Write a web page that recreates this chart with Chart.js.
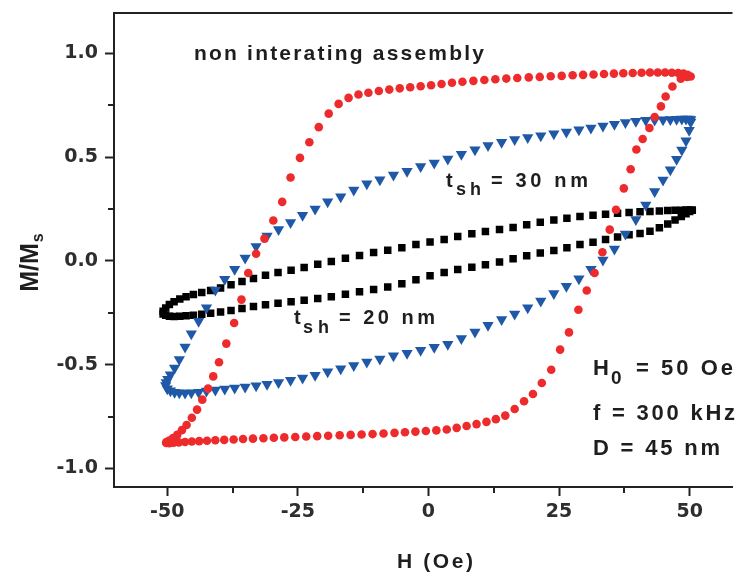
<!DOCTYPE html>
<html>
<head>
<meta charset="utf-8">
<title>Hysteresis loops</title>
<script src="https://cdn.jsdelivr.net/npm/chart.js@4.4.0/dist/chart.umd.min.js"></script>
<style>
  html, body { margin: 0; padding: 0; background: #fff; }
  canvas { display: block; }
</style>
</head>
<body>
<canvas id="loops" width="739" height="577"></canvas>
<script>
// red circles: upper branch (field going down), then lower branch (field going up)
const redUpH = [50.2, 49.6, 48.8, 47.8, 46.6, 45.3, 43.9, 42.4, 40.8, 39.1, 37.3, 35.5, 33.6, 31.6, 29.6,
  27.6, 25.5, 23.4, 21.3, 19.2, 17.0, 14.9, 12.8, 10.7, 8.6, 6.5, 4.5, 2.5, 0.5, -1.5, -3.5, -5.5, -7.5,
  -9.5, -11.5, -13.4, -15.3, -17.2, -19.1, -21.0, -22.8, -24.6, -26.4, -28.0, -29.7, -31.4, -33.0, -34.5,
  -35.8, -37.2, -38.7, -40.1, -41.2, -42.2, -43.3, -44.3, -45.3, -46.3, -47.2, -48.1, -48.9, -49.6, -50.2];
const redUpM = [0.889, 0.897, 0.903, 0.906, 0.907, 0.908, 0.908, 0.908, 0.907, 0.906, 0.905, 0.903, 0.901,
  0.899, 0.897, 0.895, 0.892, 0.890, 0.887, 0.885, 0.882, 0.879, 0.876, 0.872, 0.868, 0.864, 0.859, 0.853,
  0.847, 0.842, 0.837, 0.832, 0.826, 0.819, 0.811, 0.802, 0.786, 0.757, 0.710, 0.645, 0.572, 0.497, 0.402,
  0.285, 0.195, 0.108, 0.035, -0.058, -0.186, -0.299, -0.398, -0.488, -0.556, -0.615, -0.668, -0.716,
  -0.755, -0.790, -0.815, -0.838, -0.853, -0.865, -0.873];
const redLoH = [-50.2, -49.6, -48.8, -47.8, -46.6, -45.3, -43.9, -42.4, -40.8, -39.1, -37.3, -35.5, -33.6,
  -31.6, -29.6, -27.6, -25.5, -23.4, -21.3, -19.2, -17.0, -14.9, -12.8, -10.7, -8.6, -6.5, -4.5, -2.5, -0.5,
  1.5, 3.5, 5.4, 7.3, 9.2, 11.1, 12.9, 14.7, 16.5, 18.3, 20.0, 21.7, 23.5, 25.2, 26.9, 28.7, 30.3, 31.8,
  33.3, 34.7, 35.9, 37.4, 38.7, 39.8, 41.0, 42.3, 43.3, 44.5, 45.4, 46.7, 48.3, 49.5];
const redLoM = [-0.877, -0.878, -0.876, -0.874, -0.872, -0.870, -0.868, -0.866, -0.864, -0.862, -0.860,
  -0.858, -0.856, -0.854, -0.852, -0.850, -0.848, -0.846, -0.844, -0.842, -0.840, -0.838, -0.836, -0.834,
  -0.831, -0.828, -0.825, -0.822, -0.819, -0.816, -0.812, -0.804, -0.795, -0.786, -0.775, -0.762, -0.745,
  -0.713, -0.676, -0.641, -0.588, -0.524, -0.427, -0.344, -0.235, -0.142, -0.058, 0.042, 0.151, 0.247,
  0.350, 0.442, 0.537, 0.588, 0.641, 0.694, 0.745, 0.793, 0.841, 0.878, 0.887];

// blue triangles (t_sh = 30 nm)
const blueUpH = [50.2, 49.9, 49.3, 48.5, 47.5, 46.3, 44.9, 43.3, 41.6, 39.7, 37.7, 35.6, 33.4, 31.1, 28.8,
  26.4, 24.0, 21.5, 19.0, 16.5, 14.0, 11.4, 8.9, 6.3, 3.7, 1.1, -1.5, -4.1, -6.7, -9.3, -11.8, -14.3, -16.8,
  -19.3, -21.7, -24.1, -26.4, -28.7, -30.9, -33.0, -35.1, -37.1, -39.0, -40.8, -42.5, -44.0, -45.4, -46.6,
  -47.7, -48.6, -49.4, -49.9, -50.2];
const blueUpM = [0.682, 0.684, 0.684, 0.684, 0.683, 0.682, 0.681, 0.680, 0.678, 0.673, 0.667, 0.659, 0.650,
  0.641, 0.632, 0.622, 0.613, 0.604, 0.595, 0.585, 0.572, 0.556, 0.536, 0.514, 0.492, 0.472, 0.455, 0.432,
  0.414, 0.392, 0.372, 0.342, 0.310, 0.285, 0.250, 0.220, 0.185, 0.152, 0.120, 0.070, 0.015, -0.040, -0.088,
  -0.140, -0.225, -0.290, -0.350, -0.415, -0.475, -0.515, -0.548, -0.570, -0.585];
const blueLoH = [-50.3, -50.0, -49.4, -48.6, -47.7, -46.6, -45.4, -44.0, -42.5, -40.8, -39.0, -37.1, -35.1,
  -33.0, -30.9, -28.7, -26.4, -24.1, -21.7, -19.3, -16.8, -14.3, -11.8, -9.3, -6.7, -4.1, -1.5, 1.1, 3.7,
  6.3, 8.9, 11.4, 14.0, 16.5, 19.0, 21.5, 24.0, 26.4, 28.8, 31.1, 33.4, 35.6, 37.7, 39.7, 41.6, 43.3, 44.9,
  46.3, 47.5, 48.5, 49.3, 49.9, 50.2];
const blueLoM = [-0.600, -0.615, -0.625, -0.632, -0.635, -0.636, -0.635, -0.632, -0.627, -0.622, -0.617,
  -0.612, -0.607, -0.601, -0.594, -0.585, -0.575, -0.564, -0.550, -0.534, -0.519, -0.503, -0.487, -0.472,
  -0.457, -0.444, -0.430, -0.416, -0.401, -0.373, -0.342, -0.310, -0.282, -0.255, -0.225, -0.193, -0.157,
  -0.122, -0.085, -0.040, 0.005, 0.058, 0.130, 0.200, 0.270, 0.335, 0.390, 0.440, 0.490, 0.535, 0.580,
  0.630, 0.670];

// black squares (t_sh = 20 nm)
const blackUpH = [50.5, 50.0, 49.3, 48.4, 47.2, 45.8, 44.2, 42.4, 40.5, 38.4, 36.2, 33.9, 31.5, 29.0, 26.5,
  24.0, 21.4, 18.8, 16.2, 13.6, 10.9, 8.3, 5.6, 3.0, 0.3, -2.4, -5.1, -7.8, -10.5, -13.2, -15.9, -18.6,
  -21.2, -23.8, -26.3, -28.8, -31.2, -33.5, -35.7, -37.8, -39.8, -41.7, -43.4, -45.0, -46.4, -47.6, -48.7,
  -49.6, -50.3, -50.8];
const blackUpM = [0.245, 0.246, 0.246, 0.245, 0.244, 0.243, 0.241, 0.239, 0.237, 0.234, 0.230, 0.225, 0.220,
  0.214, 0.206, 0.197, 0.187, 0.175, 0.162, 0.152, 0.142, 0.131, 0.118, 0.104, 0.092, 0.079, 0.064, 0.052,
  0.041, 0.027, 0.013, -0.002, -0.016, -0.031, -0.045, -0.055, -0.069, -0.084, -0.099, -0.114, -0.130,
  -0.142, -0.152, -0.162, -0.172, -0.183, -0.196, -0.210, -0.226, -0.242];
const blackLoH = [-50.8, -50.3, -49.6, -48.7, -47.6, -46.4, -45.0, -43.4, -41.7, -39.8, -37.8, -35.7, -33.5,
  -31.2, -28.8, -26.3, -23.8, -21.2, -18.6, -15.9, -13.2, -10.5, -7.8, -5.1, -2.4, 0.3, 3.0, 5.6, 8.3, 10.9,
  13.6, 16.2, 18.8, 21.4, 24.0, 26.5, 29.0, 31.5, 33.9, 36.2, 38.4, 40.5, 42.4, 44.2, 45.8, 47.2, 48.4, 49.3,
  50.0, 50.5];
const blackLoM = [-0.255, -0.262, -0.266, -0.267, -0.266, -0.264, -0.261, -0.257, -0.252, -0.246, -0.238,
  -0.229, -0.219, -0.211, -0.203, -0.196, -0.189, -0.181, -0.172, -0.160, -0.148, -0.137, -0.125, -0.110,
  -0.090, -0.071, -0.055, -0.041, -0.030, -0.018, -0.005, 0.011, 0.025, 0.039, 0.051, 0.064, 0.079, 0.090,
  0.104, 0.116, 0.126, 0.133, 0.143, 0.160, 0.178, 0.198, 0.215, 0.228, 0.238, 0.244];

// axis ticks
const xMajor = [-50, -25, 0, 25, 50];
const xMinor = [-37.5, -12.5, 12.5, 37.5];
const yMajor = [-1.0, -0.5, 0.0, 0.5, 1.0];
const yMinor = [-0.75, -0.25, 0.25, 0.75];

const AXIS_COLOR = '#222';
const TEXT_COLOR = '#1e1e1e';

// join the two branches of a loop into x/y points
function loopPoints(upH, upM, loH, loM) {
  const up = upH.map((h, i) => ({ x: h, y: upM[i] }));
  const lo = loH.map((h, i) => ({ x: h, y: loM[i] }));
  return up.concat(lo);
}

// draw a string so that it spans from left to right (the figure uses wide letter spacing)
function fitText(ctx, str, left, right, baseline, font) {
  ctx.font = font;
  ctx.letterSpacing = '0px';
  const natural = ctx.measureText(str).width;
  const gap = str.length > 1 ? (right - left - natural) / (str.length - 1) : 0;
  ctx.letterSpacing = gap.toFixed(2) + 'px';
  ctx.fillText(str, left, baseline);
  ctx.letterSpacing = '0px';
}

// top frame line, minor ticks, annotations and axis titles
const extras = {
  id: 'extras',
  afterDraw(chart) {
    const { ctx, chartArea: a, scales: { x, y } } = chart;
    ctx.save();
    ctx.strokeStyle = AXIS_COLOR;
    ctx.lineWidth = 2;
    ctx.beginPath();
    ctx.moveTo(a.left - 1, a.top);
    ctx.lineTo(a.right, a.top);
    xMinor.forEach(v => {
      const px = Math.round(x.getPixelForValue(v));
      ctx.moveTo(px, a.bottom);
      ctx.lineTo(px, a.bottom + 6);
    });
    yMinor.forEach(v => {
      const py = Math.round(y.getPixelForValue(v));
      ctx.moveTo(a.left, py);
      ctx.lineTo(a.left - 6, py);
    });
    ctx.stroke();

    ctx.fillStyle = TEXT_COLOR;
    ctx.textAlign = 'left';
    ctx.textBaseline = 'alphabetic';
    const f20 = 'bold 20px "Liberation Sans"';
    const f22 = 'bold 22px "Liberation Sans"';
    const sub = 'bold 18px "Liberation Sans"';

    fitText(ctx, 'non interating assembly', 194, 484, 60, 'bold 21px "Liberation Sans"');

    fitText(ctx, 't', 446, 452, 187, f20);
    fitText(ctx, 'sh', 456, 481, 195, sub);
    fitText(ctx, '= 30 nm', 491, 588, 187, f20);

    fitText(ctx, 't', 294, 300, 324, f20);
    fitText(ctx, 'sh', 303, 329, 333, sub);
    fitText(ctx, '= 20 nm', 339, 435, 324, f20);

    fitText(ctx, 'H', 593, 609, 375, f22);
    fitText(ctx, '0', 611, 623, 384, 'bold 19px "Liberation Sans"');
    fitText(ctx, '= 50 Oe', 636, 733, 375, f22);
    fitText(ctx, 'f = 300 kHz', 593, 735, 420, f22);
    fitText(ctx, 'D = 45 nm', 593, 720, 455, f22);

    // x axis title
    fitText(ctx, 'H (Oe)', 397, 473, 568, 'bold 21px "Liberation Sans"');

    // y axis title, rotated
    ctx.translate(38, 263);
    ctx.rotate(-Math.PI / 2);
    ctx.font = 'bold 25px "Liberation Sans"';
    const wM = ctx.measureText('M/M').width;
    ctx.font = 'bold 16px "Liberation Sans"';
    const wS = ctx.measureText('s').width;
    const start = -(wM + wS) / 2;
    ctx.font = 'bold 25px "Liberation Sans"';
    ctx.fillText('M/M', start, 0);
    ctx.font = 'bold 16px "Liberation Sans"';
    ctx.fillText('s', start + wM + 1, 5);
    ctx.restore();
  }
};

const tickFont = { family: 'DejaVu Sans', size: 19, weight: 'bold' };

new Chart(document.getElementById('loops'), {
  type: 'scatter',
  data: {
    datasets: [
      {
        label: 'circles',
        data: loopPoints(redUpH, redUpM, redLoH, redLoM),
        pointStyle: 'circle',
        pointRadius: 4.3,
        pointBorderWidth: 0,
        backgroundColor: '#ee2b2c',
        borderColor: '#ee2b2c'
      },
      {
        label: 'tsh = 30 nm',
        data: loopPoints(blueUpH, blueUpM, blueLoH, blueLoM),
        pointStyle: 'triangle',
        rotation: 180,
        pointRadius: 6.5,
        pointBorderWidth: 0,
        backgroundColor: '#1f58a6',
        borderColor: '#1f58a6'
      },
      {
        label: 'tsh = 20 nm',
        data: loopPoints(blackUpH, blackUpM, blackLoH, blackLoM),
        pointStyle: 'rect',
        pointRadius: 5.3,
        pointBorderWidth: 0,
        backgroundColor: '#000',
        borderColor: '#000'
      }
    ]
  },
  options: {
    responsive: false,
    animation: false,
    devicePixelRatio: 1,
    showLine: false,
    layout: { padding: { top: 13, right: 0, bottom: 0, left: 0 } },
    plugins: { legend: { display: false }, tooltip: { enabled: false } },
    scales: {
      x: {
        type: 'linear',
        position: 'bottom',
        min: -60.2,
        max: 58.2,
        afterBuildTicks: axis => { axis.ticks = xMajor.map(v => ({ value: v })); },
        afterFit: axis => { axis.height = 90; axis.paddingLeft = 0; axis.paddingRight = 0; },
        grid: { drawOnChartArea: false, drawTicks: true, tickLength: 9, tickWidth: 2, tickColor: AXIS_COLOR },
        border: { display: true, width: 2, color: AXIS_COLOR },
        ticks: { font: tickFont, color: '#2e2e2e', padding: 5, maxRotation: 0, autoSkip: false,
                 callback: v => String(v) }
      },
      y: {
        type: 'linear',
        min: -1.089,
        max: 1.195,
        afterBuildTicks: axis => { axis.ticks = yMajor.map(v => ({ value: v })); },
        afterFit: axis => { axis.width = 114; axis.paddingTop = 0; axis.paddingBottom = 0; },
        grid: { drawOnChartArea: false, drawTicks: true, tickLength: 9, tickWidth: 2, tickColor: AXIS_COLOR },
        border: { display: true, width: 2, color: AXIS_COLOR },
        ticks: { font: tickFont, color: '#2e2e2e', padding: 7, autoSkip: false,
                 callback: v => v.toFixed(1) }
      }
    }
  },
  plugins: [extras]
});
</script>
</body>
</html>
